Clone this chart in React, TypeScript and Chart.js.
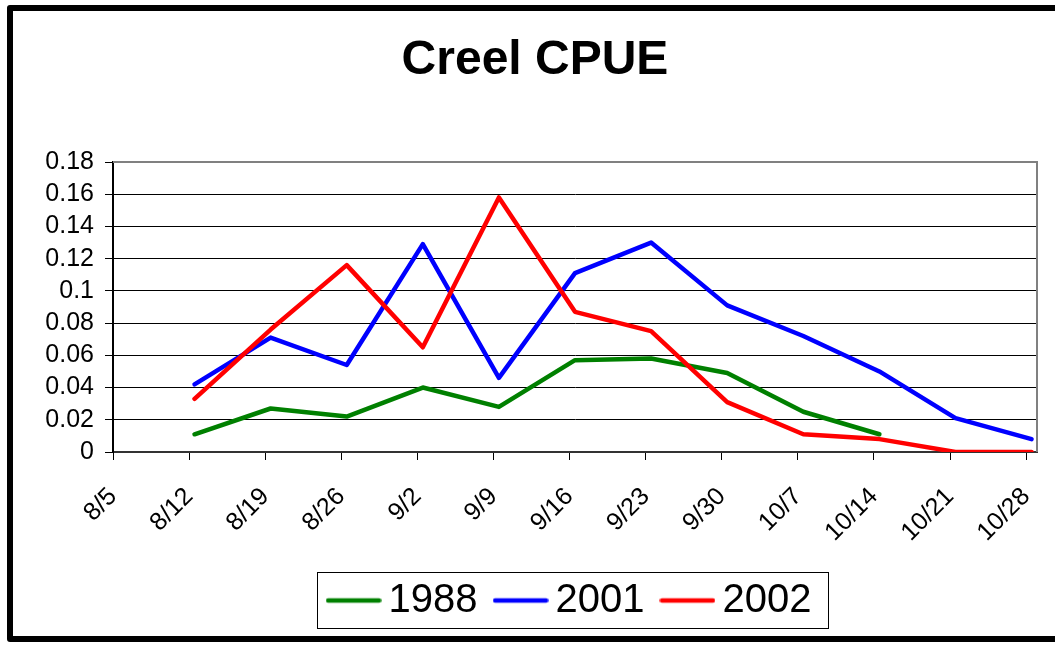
import React, { useEffect, useRef } from "react";
import { Chart, registerables } from "chart.js";

Chart.register(...registerables);

// ---------- data ----------
const chartTitle = "Creel CPUE";
const seriesNames = ["1988", "2001", "2002"];
const seriesColors = ["#008000", "#0000FF", "#FF0000"];
const sampleDates = ["8/12", "8/19", "8/26", "9/2", "9/9", "9/16", "9/23", "9/30", "10/7", "10/14", "10/21", "10/28"];
const cpue1988 = [0.011, 0.027, 0.022, 0.040, 0.028, 0.057, 0.058, 0.049, 0.025, 0.011, null, null];
const cpue2001 = [0.042, 0.071, 0.054, 0.129, 0.046, 0.111, 0.130, 0.091, 0.072, 0.050, 0.021, 0.008];
const cpue2002 = [0.033, 0.076, 0.116, 0.065, 0.158, 0.087, 0.075, 0.031, 0.011, 0.008, 0, 0];
const xTickLabels = ["8/5", "8/12", "8/19", "8/26", "9/2", "9/9", "9/16", "9/23", "9/30", "10/7", "10/14", "10/21", "10/28"];
const xAxisEnd = "10/29";
const yTickLabels = ["0", "0.02", "0.04", "0.06", "0.08", "0.1", "0.12", "0.14", "0.16", "0.18"];

const seriesValues = [cpue1988, cpue2001, cpue2002];

// ---------- helpers ----------
const FONT = '"Liberation Sans", Arial, Helvetica, sans-serif';
const MONTH_OFFSET: Record<number, number> = { 8: 0, 9: 31, 10: 61 };
const dayNum = (s: string) => {
  const [m, d] = s.split("/").map(Number);
  return MONTH_OFFSET[m] + d;
};
const origin = dayNum(xTickLabels[0]);
const toX = (s: string) => dayNum(s) - origin;
// Excel date axis places each day's point in the middle of its day slot
const slotCenter = 0.5;

function lineSwatch(color: string) {
  const c = document.createElement("canvas");
  c.width = 56;
  c.height = 8;
  const g = c.getContext("2d")!;
  g.strokeStyle = color;
  g.lineWidth = 4.5;
  g.lineCap = "round";
  g.beginPath();
  g.moveTo(2.5, 4);
  g.lineTo(53.5, 4);
  g.stroke();
  return c;
}

const framePlugin = {
  id: "frame",
  beforeDraw(chart: any) {
    const { ctx } = chart;
    ctx.save();
    ctx.fillStyle = "#fff";
    ctx.fillRect(0, 0, chart.width, chart.height);
    ctx.strokeStyle = "#000";
    ctx.lineWidth = 6;
    ctx.lineJoin = "round";
    ctx.strokeRect(10, 8, chart.width + 20, 631);
    ctx.restore();
  },
  beforeDatasetsDraw(chart: any) {
    const { ctx, chartArea: a } = chart;
    ctx.save();
    ctx.strokeStyle = "#808080";
    ctx.lineWidth = 2;
    ctx.beginPath();
    ctx.moveTo(a.left, a.top);
    ctx.lineTo(a.right, a.top);
    ctx.lineTo(a.right, a.bottom);
    ctx.stroke();
    ctx.restore();
  },
  afterDraw(chart: any) {
    const lg = chart.legend;
    const hb = lg && lg.legendHitBoxes;
    if (!hb || !hb.length) return;
    const { ctx } = chart;
    const mid = hb[0].top + hb[0].height / 2;
    const left = hb[0].left - 22;
    const last = hb[hb.length - 1];
    const right = last.left + last.width + 16;
    ctx.save();
    ctx.strokeStyle = "#000";
    ctx.lineWidth = 1;
    ctx.strokeRect(Math.round(left) + 0.5, Math.round(mid - 28.5) + 0.5, Math.round(right - left), 56);
    ctx.restore();
  },
};

export default function App() {
  const ref = useRef<HTMLCanvasElement>(null);

  useEffect(() => {
    const swatches = seriesColors.map(lineSwatch);
    const chart = new Chart(ref.current!, {
      type: "line",
      data: {
        datasets: seriesValues.map((vals, i) => ({
          label: seriesNames[i],
          data: sampleDates
            .map((d, j) => ({ x: toX(d) + slotCenter, y: vals[j] }))
            .filter((p) => p.y !== null),
          borderColor: seriesColors[i],
          backgroundColor: seriesColors[i],
          borderWidth: 4.5,
          pointRadius: 0,
          pointHoverRadius: 0,
          tension: 0,
          borderCapStyle: "round",
          borderJoinStyle: "round",
          fill: false,
          order: seriesValues.length - i,
        })),
      },
      options: {
        responsive: false,
        animation: false,
        events: [],
        layout: { padding: { left: 33, right: 18, top: 8, bottom: 18.5 } },
        scales: {
          x: {
            type: "linear",
            min: 0,
            max: toX(xAxisEnd),
            afterBuildTicks: (s: any) => {
              s.ticks = xTickLabels.map((l) => ({ value: toX(l) }));
            },
            afterFit: (s: any) => {
              s.height = 100.5;
              s.paddingLeft = 0;
              s.paddingRight = 0;
            },
            ticks: {
              autoSkip: false,
              minRotation: 45,
              maxRotation: 45,
              padding: 22,
              color: "#000",
              font: { family: FONT, size: 25 },
              callback: (_v: any, i: number) => xTickLabels[i],
            },
            grid: { drawOnChartArea: false, drawTicks: true, tickLength: 8, color: "#000", lineWidth: 1 },
            border: { display: true, color: "#333", width: 2 },
          },
          y: {
            min: 0,
            max: Number(yTickLabels[yTickLabels.length - 1]),
            afterBuildTicks: (s: any) => {
              s.ticks = yTickLabels.map((l) => ({ value: Number(l) }));
            },
            afterFit: (s: any) => {
              s.width = 80;
            },
            ticks: {
              autoSkip: false,
              padding: 11,
              color: "#000",
              font: { family: FONT, size: 25 },
              callback: (_v: any, i: number) => yTickLabels[i],
            },
            grid: { color: "#000", lineWidth: 1, tickLength: 8, drawTicks: true },
            border: { color: "#000", width: 2 },
          },
        },
        plugins: {
          title: {
            display: true,
            text: chartTitle,
            color: "#000",
            font: { family: FONT, size: 48, weight: "bold", lineHeight: 1.2 },
            padding: { top: 24, bottom: 72.4 },
          },
          legend: {
            position: "bottom",
            fullSize: false,
            labels: {
              usePointStyle: true,
              boxWidth: 30,
              padding: 28,
              color: "#000",
              font: { family: FONT, size: 40 },
              generateLabels: (c: any) => {
                const items = (Chart.defaults.plugins.legend.labels as any).generateLabels(c);
                return items
                  .sort((a: any, b: any) => a.datasetIndex - b.datasetIndex)
                  .map((it: any) => ({ ...it, pointStyle: swatches[it.datasetIndex] }));
              },
            },
          },
          tooltip: { enabled: false },
        },
      } as any,
      plugins: [framePlugin],
    });
    return () => chart.destroy();
  }, []);

  return (
    <div style={{ position: "absolute", left: 0, top: 0, width: 1055, height: 649, background: "#fff" }}>
      <canvas ref={ref} width={1055} height={649} style={{ display: "block", width: 1055, height: 649 }} />
    </div>
  );
}
